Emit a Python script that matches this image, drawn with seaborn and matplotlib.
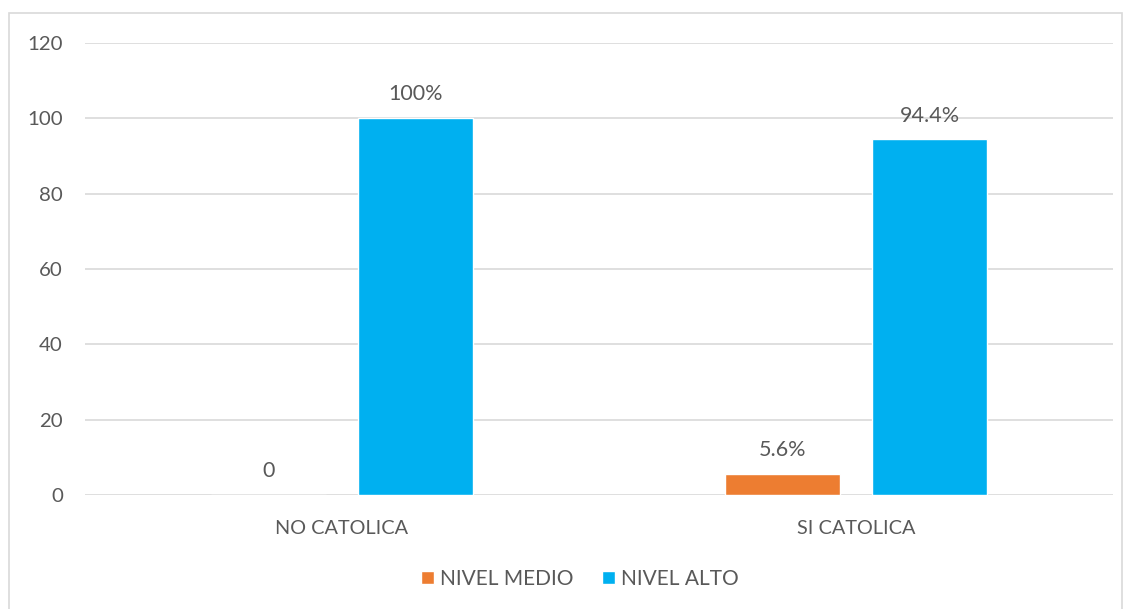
import matplotlib
matplotlib.use("Agg")
import matplotlib.pyplot as plt
from matplotlib.patches import Rectangle
import seaborn as sns
import pandas as pd

categories = ["NO CATOLICA", "SI CATOLICA"]
series = ["NIVEL MEDIO", "NIVEL ALTO"]
nivel_medio = [0, 5.6]
nivel_alto = [100, 94.4]
labels_medio = ["0", "5.6%"]
labels_alto = ["100%", "94.4%"]
yticks = [0, 20, 40, 60, 80, 100, 120]

colors = {"NIVEL MEDIO": "#ED7D31", "NIVEL ALTO": "#00B0F0"}
text_color = "#595959"
grid_color = "#D9D9D9"

df = pd.DataFrame({
    "categoria": categories * 2,
    "nivel": [series[0]] * 2 + [series[1]] * 2,
    "valor": nivel_medio + nivel_alto,
})

sns.set_style("white")
plt.rcParams["font.family"] = ["Lato", "DejaVu Sans"]

W, H = 1131, 609
fig = plt.figure(figsize=(W / 100, H / 100), dpi=100)
ax = fig.add_axes([85 / W, 1 - 495 / H, (1113 - 85) / W, (495 - 43) / H])

sns.barplot(data=df, x="categoria", y="valor", hue="nivel", hue_order=series,
            order=categories, palette=colors, width=0.572, gap=0.217,
            saturation=1, errorbar=None, ax=ax, legend=True, zorder=3)

ax.set_ylim(0, 120)
ax.set_xlim(-0.5, 1.5)
ax.set_yticks(yticks)
ax.set_yticklabels([str(t) for t in yticks], fontsize=14.7, color=text_color)
ax.tick_params(axis="x", labelsize=14.3, labelcolor=text_color, length=0, pad=18)
ax.tick_params(axis="y", length=0, pad=16)
ax.set_xlabel("")
ax.set_ylabel("")
ax.yaxis.grid(True, color=grid_color, linewidth=1.2, zorder=0)
ax.set_axisbelow(True)
for s in ax.spines.values():
    s.set_visible(False)

# data labels
for container, labs in zip(ax.containers, [labels_medio, labels_alto]):
    ax.bar_label(container, labels=labs, padding=10, fontsize=15.5, color=text_color)

# legend
handles, lbls = ax.get_legend_handles_labels()
ax.legend(handles, lbls, loc="center", bbox_to_anchor=(580 / W, 1 - 579 / H),
          bbox_transform=fig.transFigure, ncol=2, frameon=False, fontsize=15,
          handlelength=0.6, handleheight=0.6, handletextpad=0.3,
          columnspacing=1.4, labelcolor=text_color)

# chart border
fig.patches.append(Rectangle((8.5 / W, -0.05), (1122 - 8.5) / W, 1.05 - 13 / H,
                             transform=fig.transFigure, fill=False,
                             edgecolor=grid_color, linewidth=1.2))

fig.savefig("out.png", dpi=100, facecolor="white")
